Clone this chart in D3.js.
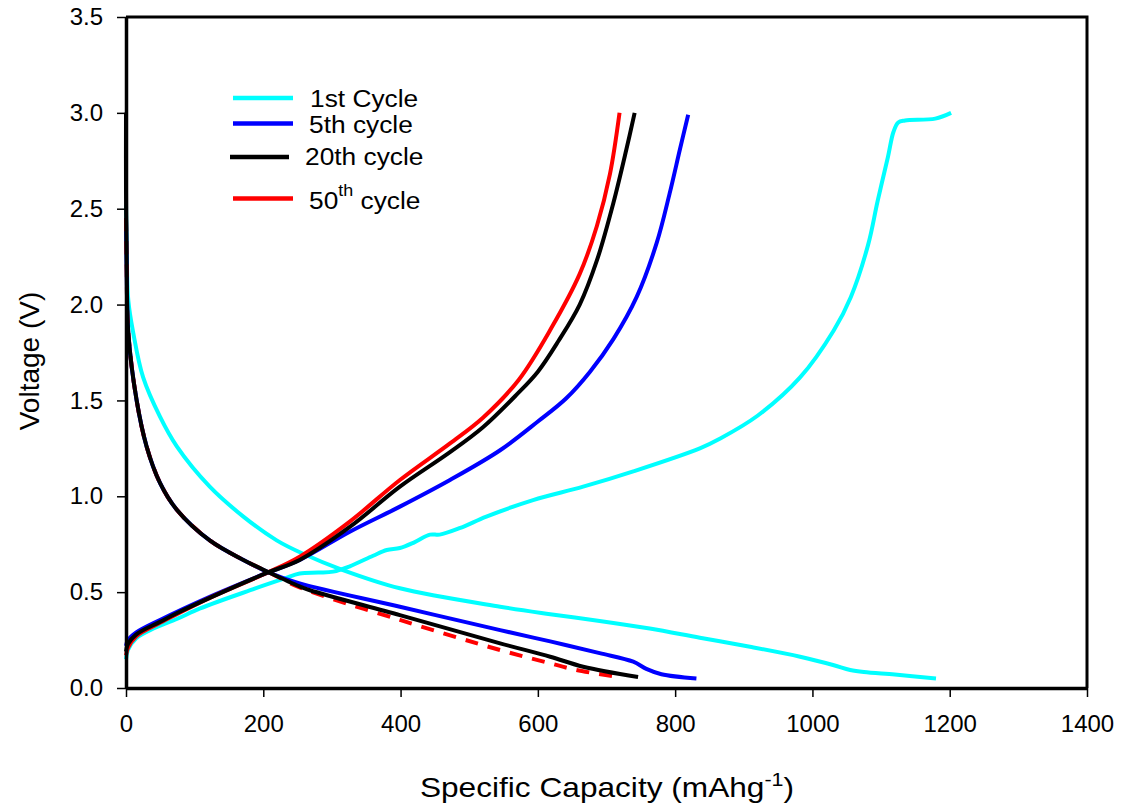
<!DOCTYPE html>
<html><head><meta charset="utf-8">
<script src="https://cdn.jsdelivr.net/npm/d3@7"></script>
<style>
body{margin:0;background:#fff;}
text{font-family:"Liberation Sans",Arial,sans-serif;fill:#000;}
</style></head>
<body><svg id="c" width="1125" height="809"></svg>
<script>
// ---- data (capacity mAh/g, voltage V) ----
const seriesNames = ["1st Cycle","5th cycle","20th cycle","50th cycle"];
const seriesColors = ["#00ffff","#0000ff","#000000","#ff0000"];
const xTicks = [0,200,400,600,800,1000,1200,1400];
const yTicks = [0.0,0.5,1.0,1.5,2.0,2.5,3.0,3.5];

const c1Discharge = [[0,2.52],[1,2.3],[3.4,2.02],[10.7,1.85],[25,1.62],[49.5,1.415],[74,1.26],[122,1.05],[171,0.894],[219.5,0.77],[258,0.70],[316,0.615],[399,0.52],[545,0.424],[618,0.385],[690,0.35],[763,0.31],[836,0.262],[909,0.215],[982,0.163],[1030,0.12],[1055,0.094],[1075,0.083],[1120,0.07],[1180,0.05]];
const c1Charge = [[0,0.15],[3,0.2],[15,0.26],[40,0.31],[74,0.36],[108,0.415],[181,0.51],[230,0.57],[253,0.597],[280,0.602],[302,0.607],[326,0.635],[360,0.69],[380,0.72],[399,0.73],[420,0.76],[443,0.80],[457,0.80],[487,0.835],[525,0.894],[593,0.98],[666,1.05],[739,1.13],[836,1.25],[865,1.3],[920,1.42],[982,1.62],[1031,1.865],[1056,2.04],[1081,2.31],[1095,2.54],[1110,2.77],[1118,2.9],[1125,2.95],[1135,2.96],[1179,2.97],[1202,3.0]];

const c5Discharge = [[0,2.45],[1,2.2],[3.4,1.85],[15.5,1.50],[30,1.26],[49.5,1.07],[74,0.93],[122,0.77],[171,0.668],[210,0.60],[253,0.546],[399,0.424],[545,0.302],[618,0.243],[690,0.182],[739,0.137],[758,0.1],[780,0.072],[831,0.05]];
const c5Charge = [[0,0.22],[3,0.25],[15,0.29],[49.5,0.355],[122,0.476],[205,0.60],[253,0.668],[326,0.815],[399,0.946],[472,1.085],[545,1.24],[600,1.39],[641,1.51],[676,1.65],[710,1.82],[744,2.04],[773,2.32],[792,2.58],[807,2.81],[819,2.99]];

const c20Discharge = [[0,3.0],[0,2.6],[1,2.2],[3.4,1.85],[15.5,1.50],[30,1.26],[49.5,1.07],[74,0.93],[122,0.77],[171,0.668],[210,0.60],[253,0.53],[268,0.51],[399,0.38],[545,0.233],[618,0.163],[666,0.111],[746,0.057]];
const c20Charge = [[0,0.19],[3,0.23],[15,0.28],[49.5,0.345],[74,0.39],[122,0.47],[205,0.6],[253,0.668],[326,0.84],[399,1.05],[472,1.23],[520,1.36],[569,1.53],[600,1.65],[630,1.81],[661,2.0],[686,2.23],[710,2.53],[729,2.81],[741,3.0]];

const c50Discharge = [[0,2.45],[1,2.2],[3.4,1.85],[15.5,1.50],[30,1.26],[49.5,1.07],[74,0.93],[122,0.77],[171,0.668],[210,0.60],[253,0.525],[399,0.355],[545,0.198],[618,0.129],[656,0.094],[715,0.059]];
const c50Charge = [[0,0.17],[3,0.21],[15,0.27],[49.5,0.34],[74,0.385],[122,0.47],[205,0.6],[253,0.685],[326,0.868],[399,1.085],[472,1.276],[520,1.41],[572,1.607],[620,1.88],[661,2.16],[686,2.41],[705,2.68],[719,3.0]];

// ---- chart ----
const svg = d3.select("#c");
const x = d3.scaleLinear().domain([0,1400]).range([126,1087]);
const y = d3.scaleLinear().domain([0,3.5]).range([688,17]);

const line = d3.line().x(d=>x(d[0])).y(d=>y(d[1])).curve(d3.curveCatmullRom.alpha(0.5));

const curves = [
  {d:c1Discharge,s:0},{d:c1Charge,s:0},
  {d:c5Discharge,s:1},{d:c5Charge,s:1},
  {d:c50Discharge,s:3,dash:"13,10"},{d:c50Charge,s:3},
  {d:c20Discharge,s:2},{d:c20Charge,s:2}
];
svg.append("g").selectAll("path").data(curves).join("path")
  .attr("d",c=>line(c.d)).attr("fill","none")
  .attr("stroke",c=>seriesColors[c.s]).attr("stroke-width",4)
  .attr("stroke-dasharray",c=>c.dash||null)
  .attr("stroke-linejoin","round");

// frame
svg.append("path").attr("d",`M${x(0)},${y(3.5)}H${x(1400)}V${y(0)}`)
  .attr("fill","none").attr("stroke","#000").attr("stroke-width",3);

const xa = svg.append("g").attr("transform",`translate(0,${y(0)})`)
  .call(d3.axisBottom(x).tickValues(xTicks).tickFormat(d3.format("d")).tickSize(9).tickSizeOuter(0).tickPadding(18));
const ya = svg.append("g").attr("transform",`translate(${x(0)},0)`)
  .call(d3.axisLeft(y).tickValues(yTicks).tickFormat(d3.format(".1f")).tickSize(9).tickSizeOuter(0).tickPadding(14));
[xa,ya].forEach(a=>{
  a.select(".domain").attr("stroke-width",3.5);
  a.selectAll(".tick line").attr("stroke-width",1.5);
  a.selectAll(".tick text").style("font-size","24px").style("font-family","Liberation Sans, Arial, sans-serif");
});

// axis titles
const xt = svg.append("text").attr("transform","translate(607,797) scale(1.13,1)")
  .attr("text-anchor","middle").style("font-size","28px");
xt.append("tspan").text("Specific Capacity (mAhg");
xt.append("tspan").attr("dy",-11).style("font-size","19px").text("-1");
xt.append("tspan").attr("dy",11).text(")");

svg.append("text").attr("transform","translate(39,361) rotate(-90)")
  .attr("text-anchor","middle").style("font-size","28px").text("Voltage (V)");

// legend
const legY = [98,123.5,157,198.5];
const legX1 = [233,233,230,233], legX2=[293,293,289,293];
const legTX = [310,309,305,309], legTY=[107,132.5,165,208.5];
const lg = svg.append("g");
seriesNames.forEach((n,i)=>{
  lg.append("line").attr("x1",legX1[i]).attr("x2",legX2[i]).attr("y1",legY[i]).attr("y2",legY[i])
    .attr("stroke",seriesColors[i]).attr("stroke-width",4.5);
  const t = lg.append("text").attr("transform",`translate(${legTX[i]},${legTY[i]}) scale(1.12,1)`).style("font-size","23.5px");
  if(i===3){
    t.append("tspan").text("50");
    t.append("tspan").attr("dy",-13).style("font-size","16px").text("th");
    t.append("tspan").attr("dy",13).text(" cycle");
  } else t.text(n);
});
</script></body></html>
